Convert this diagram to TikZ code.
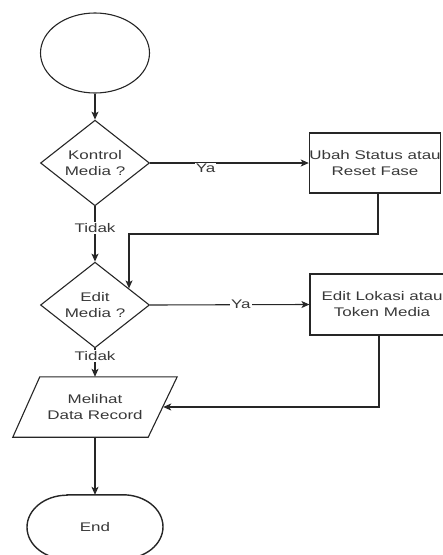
\documentclass[tikz,border=0pt]{standalone}
\usepackage{fontspec}
\setmainfont{Liberation Sans}
\usetikzlibrary{shapes.geometric,arrows.meta}
\newcommand{\hs}[1]{\scalebox{1.36}[1]{#1}}
\tikzset{
  line/.style={draw=black!85, line width=1.1pt},
  arr/.style={line, -{Stealth[length=8pt,width=7pt,inset=2pt]}},
  txt/.style={text=black!78, font=\fontsize{12.5}{16}\selectfont, align=center},
  terminal/.style={line, txt, ellipse, minimum width=109pt, minimum height=80pt, inner sep=0pt},
  decision/.style={line, txt, diamond, minimum width=109pt, minimum height=80pt, inner sep=0pt},
  process/.style={line, txt, rectangle, minimum height=60pt, inner sep=0pt},
  plain/.style={txt, rectangle, inner sep=0pt},
  lbl/.style={txt, fill=white, inner sep=1pt}
}
\begin{document}
\begin{tikzpicture}[x=1pt, y=-1pt]
\useasboundingbox (0,0) rectangle (443,555);

% shapes
\node[terminal] (start) at (95,53) {};
\node[decision] (d1) at (95,163) {\hs{Kontrol}\\\hs{Media ?}};
\node[process, minimum width=130pt] (box1) at (375,163) {\hs{Ubah Status atau}\\\hs{Reset Fase}};
\node[decision] (d2) at (95,305) {\hs{Edit}\\\hs{Media ?}};
\node[process, minimum width=144pt, minimum height=61pt] (box2) at (382,304.5) {\hs{Edit Lokasi atau}\\\hs{Token Media}};
\node[plain, minimum width=136pt, minimum height=60pt] (data) at (95,407) {\hs{Melihat}\\\hs{Data Record}};
\draw[line] ([xshift=-14pt]data.south west) -- ([xshift=-15pt]data.south east)
  -- ([xshift=14pt]data.north east) -- ([xshift=13pt]data.north west) -- cycle;
\node[plain, minimum width=136pt, minimum height=64pt] (end) at (95,527) {\hs{End}};
\draw[line, line width=1.4pt] ([xshift=-28pt]end.north) -- ([xshift=28pt]end.north)
  arc[start angle=90, end angle=-90, x radius=40pt, y radius=32pt]
  -- ([xshift=-28pt]end.south)
  arc[start angle=270, end angle=90, x radius=40pt, y radius=32pt] -- cycle;

% connectors
\coordinate (j1) at (0,234);
\draw[arr] (start.south) -- (d1.north);
\draw[arr] (d1.east) -- node[lbl, pos=0.35, yshift=-5pt] {\hs{Ya}} (box1.west);
\draw[arr] (d1.south) -- node[lbl, pos=0.39] {\hs{Tidak}} (d2.north);
\draw[arr] ([xshift=3pt]box1.south) |- (d2.26 |- j1) -- (d2.26);
\draw[arr] (d2.east) -- node[lbl, pos=0.57] {\hs{Ya}} (box2.west);
\draw[arr] ([xshift=-3pt]box2.south) |- (data.east);
\draw[arr] (d2.south) -- node[lbl, pos=0.27] {\hs{Tidak}} (data.north);
\draw[arr] (data.south) -- (end.north);
\end{tikzpicture}
\end{document}
